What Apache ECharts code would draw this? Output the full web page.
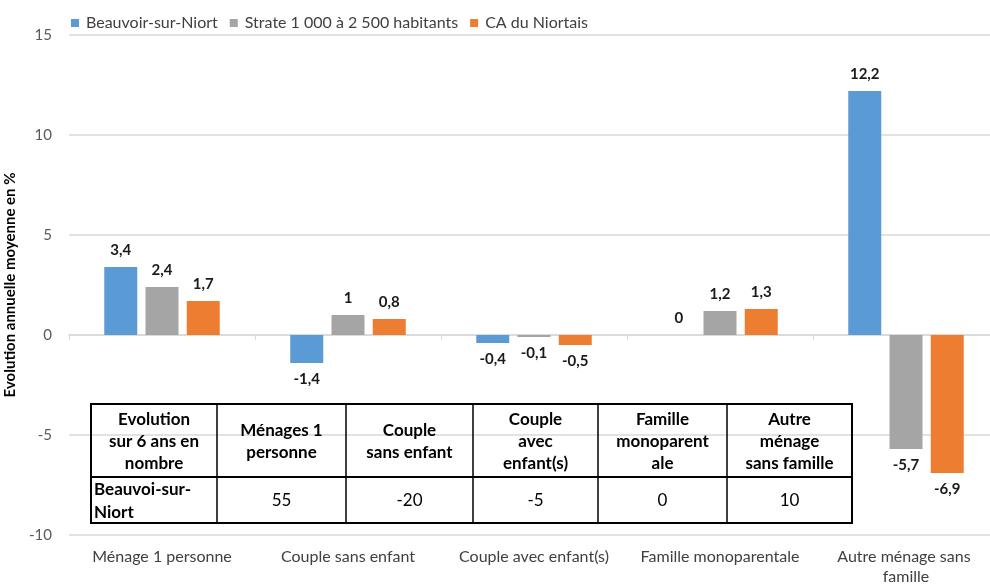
<!DOCTYPE html>
<html>
<head>
<meta charset="utf-8">
<script src="https://cdn.jsdelivr.net/npm/echarts@6/dist/echarts.min.js"></script>
<style>
  html, body { margin: 0; padding: 0; background: #fff; }
  #main { width: 990px; height: 585px; }
</style>
</head>
<body>
<div id="main"></div>
<script>
  const categories = ['Ménage 1 personne', 'Couple sans enfant', 'Couple avec enfant(s)', 'Famille monoparentale', 'Autre ménage sans famille']
  const beauvoir = [3.4, -1.4, -0.4, 0, 12.2]
  const strate = [2.4, 1, -0.1, 1.2, -5.7]
  const caNiortais = [1.7, 0.8, -0.5, 1.3, -6.9]
  const seriesNames = ['Beauvoir-sur-Niort', 'Strate 1 000 à 2 500 habitants', 'CA du Niortais']
  const dataColor = ['#5B9BD5', '#A5A5A5', '#ED7D31']

  // tableau incrusté
  const tableHeader = ['Evolution\nsur 6 ans en\nnombre', 'Ménages 1\npersonne', 'Couple\nsans enfant', 'Couple\navec\nenfant(s)', 'Famille\nmonoparent\nale', 'Autre\nménage\nsans famille']
  const tableRowLabel = 'Beauvoi-sur-\nNiort'
  const tableValues = ['55', '-20', '-5', '0', '10']

  const font = "Lato, 'Noto Sans', sans-serif"

  let main = document.getElementById('main')
  let myechart = echarts.init(main)

  // positions du tableau
  const colX = [91, 217, 346, 473, 598, 727, 852]
  const rowY = [404, 477, 523]
  let graphic = []
  graphic.push({ type: 'rect', shape: { x: colX[0], y: rowY[0], width: colX[6] - colX[0], height: rowY[2] - rowY[0] },
    style: { fill: 'none', stroke: '#000', lineWidth: 2 }, z: 100 })
  graphic.push({ type: 'line', shape: { x1: colX[0], y1: rowY[1], x2: colX[6], y2: rowY[1] }, style: { stroke: '#000', lineWidth: 2 }, z: 100 })
  for (let i = 1; i < 6; i++) {
    graphic.push({ type: 'line', shape: { x1: colX[i], y1: rowY[0], x2: colX[i], y2: rowY[2] }, style: { stroke: '#000', lineWidth: 1.5 }, z: 100 })
  }
  tableHeader.forEach((t, i) => {
    graphic.push({ type: 'text', x: (colX[i] + colX[i + 1]) / 2, y: (rowY[0] + rowY[1]) / 2 + 1, z: 100,
      style: { text: t, fill: '#000', font: 'bold 17px ' + font, align: 'center', verticalAlign: 'middle', lineHeight: 22 } })
  })
  graphic.push({ type: 'text', x: colX[0] + 3, y: (rowY[1] + rowY[2]) / 2 + 1, z: 100,
    style: { text: tableRowLabel, fill: '#000', font: 'bold 17px ' + font, align: 'left', verticalAlign: 'middle', lineHeight: 23 } })
  tableValues.forEach((t, i) => {
    graphic.push({ type: 'text', x: (colX[i + 1] + colX[i + 2]) / 2, y: (rowY[1] + rowY[2]) / 2 + 1, z: 100,
      style: { text: t, fill: '#000', font: '17px ' + font, align: 'center', verticalAlign: 'middle' } })
  })

  const labelFmt = p => String(p.value).replace('.', ',')
  function makeSeries(name, data) {
    return {
      name: name, type: 'bar', barWidth: 33, barGap: '25%',
      xAxisIndex: 0,
      data: data.map(v => ({ value: v, label: { position: v < 0 ? 'bottom' : 'top' } })),
      label: {
        show: true, distance: 9, formatter: labelFmt,
        color: '#1a1a1a', fontWeight: 'bold', fontSize: 15, fontFamily: font
      }
    }
  }

  let option = {
    animation: false,
    color: dataColor,
    textStyle: { fontFamily: font },
    legend: {
      left: 66, top: 10, itemWidth: 8, itemHeight: 8, itemGap: 12,
      icon: 'rect',
      textStyle: { fontSize: 16, color: '#404040', fontFamily: font, padding: [0, 0, 0, 2] }
    },
    grid: { left: 69, right: -9, top: 35, bottom: 50, outerBoundsMode: 'none' },
    xAxis: [
      {
        type: 'category', data: categories, position: 'bottom',
        axisLine: { show: false, onZero: false }, axisTick: { show: false },
        axisLabel: { interval: 0, color: '#404040', fontSize: 16, fontFamily: font, margin: 12, width: 175, overflow: 'break', lineHeight: 20 }
      },
      {
        type: 'category', data: categories, position: 'bottom',
        axisLine: { show: true, onZero: true, lineStyle: { color: '#D9D9D9', width: 1.5 } },
        axisTick: { show: true, length: 5, lineStyle: { color: '#D9D9D9' } },
        axisLabel: { show: false }
      }
    ],
    yAxis: {
      type: 'value', min: -10, max: 15, interval: 5,
      name: 'Evolution annuelle moyenne en %', nameLocation: 'middle', nameGap: 48,
      nameTextStyle: { fontWeight: 'bold', fontSize: 15, color: '#000', fontFamily: font },
      axisLine: { show: false }, axisTick: { show: false },
      axisLabel: { color: '#595959', fontSize: 15, fontFamily: font, margin: 17 },
      splitLine: { lineStyle: { color: '#D9D9D9', width: 1.5 } }
    },
    graphic: graphic,
    series: [makeSeries(seriesNames[0], beauvoir), makeSeries(seriesNames[1], strate), makeSeries(seriesNames[2], caNiortais)]
  }
  myechart.setOption(option)
</script>
</body>
</html>
